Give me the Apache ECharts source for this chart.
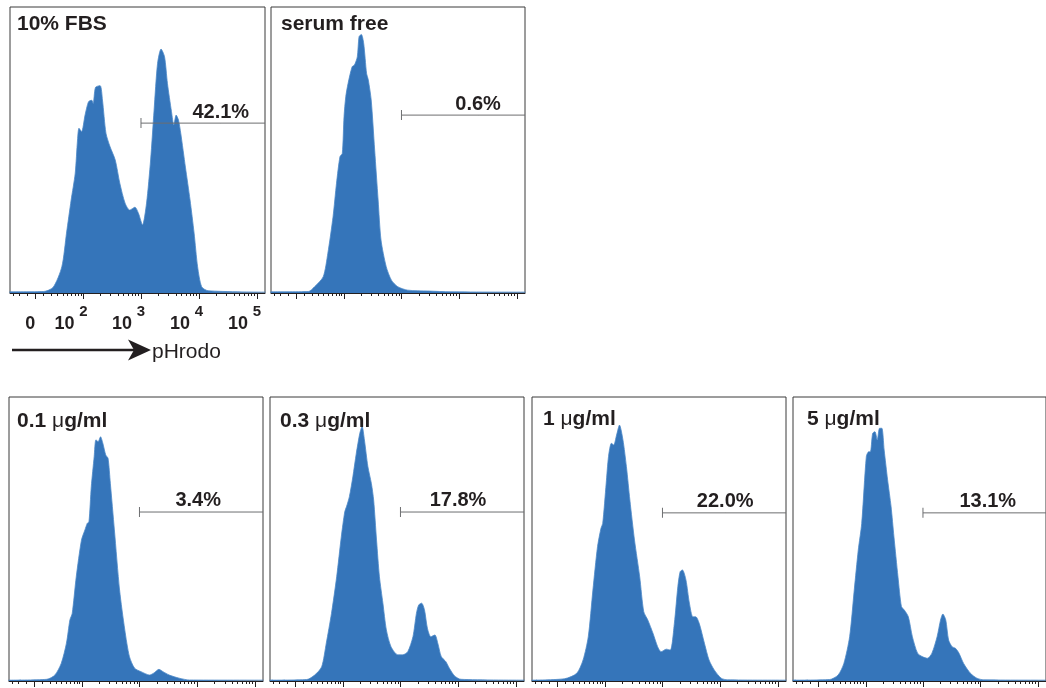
<!DOCTYPE html>
<html><head><meta charset="utf-8">
<script src="https://cdn.jsdelivr.net/npm/echarts@6/dist/echarts.min.js"></script>
<style>html,body{margin:0;padding:0;background:#fff}#c{width:1046px;height:688px}</style>
</head><body><div id="c"></div>
<script>
// ---- data: x in biexponential display decades, y in % of panel height ----
const fbsX = [-0.44, 0.14, 0.31, 0.46, 0.54, 0.62, 0.69, 0.73, 0.755, 0.80, 0.86, 0.92, 0.975, 1.00, 1.04, 1.12, 1.16, 1.22, 1.29, 1.38, 1.46, 1.55, 1.63, 1.72, 1.78, 1.85, 1.92, 1.99, 2.05, 2.11, 2.17, 2.23, 2.28, 2.35, 2.39, 2.43, 2.47, 2.51, 2.59, 2.67, 2.74, 2.80, 2.87, 2.98, 3.97];
const fbsY = [0.4, 0.5, 2.0, 9.2, 20.9, 32.5, 41.8, 53.5, 57.6, 56.4, 62.2, 66.9, 67.4, 66.3, 71.9, 72.5, 67.5, 55.9, 51.2, 46.5, 38.3, 31.4, 29.0, 30.0, 27.9, 23.8, 31.4, 46.5, 64.0, 80.3, 85.3, 82.6, 73.3, 63.4, 58.7, 62.2, 60.5, 55.8, 44.0, 32.5, 20.9, 9.2, 2.2, 0.8, 0.3];

const serumFreeX = [-0.44, 0.21, 0.32, 0.47, 0.55, 0.64, 0.70, 0.76, 0.80, 0.83, 0.86, 0.90, 0.97, 1.01, 1.06, 1.09, 1.13, 1.17, 1.22, 1.25, 1.30, 1.36, 1.42, 1.47, 1.56, 1.65, 1.76, 1.93, 2.28, 2.68, 3.97];
const serumFreeY = [0.4, 0.5, 2.2, 5.7, 13.9, 26.7, 38.4, 47.7, 48.8, 61.7, 68.6, 73.3, 79.1, 79.7, 82.6, 89.6, 90.4, 87.3, 76.8, 74.5, 67.5, 50.0, 32.5, 18.5, 9.2, 4.5, 2.2, 1.0, 0.7, 0.4, 0.3];

const dose01X = [-0.44, 0.22, 0.36, 0.47, 0.56, 0.62, 0.66, 0.73, 0.82, 0.88, 0.92, 0.95, 0.99, 1.04, 1.07, 1.11, 1.15, 1.19, 1.24, 1.28, 1.32, 1.39, 1.48, 1.57, 1.65, 1.74, 1.85, 2.00, 2.08, 2.16, 2.23, 2.34, 2.51, 2.69, 3.97];
const dose01Y = [0.3, 0.6, 2.1, 6.2, 13.3, 21.5, 23.8, 36.7, 49.6, 53.2, 55.5, 56.1, 68.4, 79.0, 84.9, 84.3, 86.0, 83.7, 79.6, 78.4, 69.6, 53.2, 32.0, 18.0, 8.6, 4.5, 3.3, 2.1, 2.9, 4.1, 3.3, 2.1, 1.0, 0.35, 0.3];

const dose03X = [-0.44, 0.20, 0.34, 0.46, 0.54, 0.63, 0.72, 0.80, 0.86, 0.89, 0.94, 1.00, 1.06, 1.12, 1.16, 1.20, 1.26, 1.32, 1.36, 1.41, 1.46, 1.52, 1.58, 1.66, 1.78, 1.86, 1.95, 2.04, 2.10, 2.14, 2.19, 2.24, 2.29, 2.35, 2.42, 2.47, 2.53, 2.61, 2.67, 2.76, 2.87, 3.97];
const dose03Y = [0.3, 0.5, 2.1, 5.0, 13.3, 23.8, 36.7, 50.8, 59.6, 61.4, 64.9, 71.9, 80.2, 87.2, 89.6, 84.9, 75.5, 69.6, 63.7, 49.6, 36.7, 27.4, 18.0, 12.1, 9.2, 9.2, 10.3, 15.6, 23.8, 26.8, 27.4, 25.0, 18.6, 15.6, 16.2, 13.3, 8.6, 6.8, 4.5, 1.8, 0.6, 0.3];

const dose1X = [-0.44, 0.13, 0.34, 0.45, 0.54, 0.62, 0.70, 0.76, 0.79, 0.85, 0.89, 0.94, 0.98, 1.03, 1.08, 1.14, 1.20, 1.26, 1.34, 1.43, 1.50, 1.57, 1.66, 1.74, 1.80, 1.89, 1.96, 2.03, 2.09, 2.13, 2.17, 2.23, 2.29, 2.35, 2.40, 2.46, 2.55, 2.63, 2.72, 2.84, 2.95, 3.97];
const dose1Y = [0.3, 0.8, 2.7, 7.4, 15.6, 32.0, 47.3, 53.8, 55.5, 69.6, 79.0, 83.7, 83.1, 86.6, 90.1, 84.9, 75.5, 63.7, 49.6, 36.7, 24.4, 21.5, 16.8, 12.1, 10.3, 11.2, 10.9, 20.3, 33.2, 38.5, 39.1, 35.6, 27.4, 22.6, 22.6, 20.3, 13.3, 7.4, 3.9, 1.0, 0.4, 0.3];

const dose5X = [-0.44, 0.20, 0.35, 0.45, 0.55, 0.63, 0.70, 0.76, 0.84, 0.88, 0.91, 0.95, 0.99, 1.03, 1.07, 1.11, 1.15, 1.21, 1.27, 1.32, 1.39, 1.45, 1.50, 1.57, 1.64, 1.73, 1.81, 1.90, 1.98, 2.07, 2.13, 2.17, 2.22, 2.27, 2.33, 2.39, 2.45, 2.53, 2.65, 2.76, 2.88, 3.97];
const dose5Y = [0.3, 0.5, 2.1, 6.2, 15.6, 32.0, 46.1, 55.5, 79.0, 80.7, 80.7, 87.2, 87.8, 84.9, 89.0, 89.0, 81.3, 70.8, 61.4, 50.8, 36.7, 26.2, 25.0, 22.6, 15.6, 9.8, 8.6, 8.0, 9.8, 15.6, 21.5, 23.6, 21.5, 14.4, 12.1, 11.5, 9.8, 6.2, 2.7, 1.0, 0.4, 0.3];

const panelTitles = ['10% FBS', 'serum free', '0.1 {u|\u03bc}g/ml', '0.3 {u|\u03bc}g/ml', '1 {u|\u03bc}g/ml', '5 {u|\u03bc}g/ml'];
const gatePercents = ['42.1%', '0.6%', '3.4%', '17.8%', '22.0%', '13.1%'];
const gateHeights = [59.4, 62.2, 59.5, 59.5, 59.2, 59.2];
const gateStartValue = 1000;

// axis ticks (fluorescence intensity) and labels
const majorTickValues = [0, 100, 1000, 10000, 100000];
const minorTickValues = [-30, -20, -10, 10, 20, 30, 40, 50, 60, 70, 80, 90,
  200, 300, 400, 500, 600, 700, 800, 900,
  2000, 3000, 4000, 5000, 6000, 7000, 8000, 9000,
  20000, 30000, 40000, 50000, 60000, 70000, 80000, 90000];
const tickBaseLabels = ['0', '10', '10', '10', '10'];
const tickExpLabels = ['', '2', '3', '4', '5'];
const axisName = 'pHrodo';

// ---- layout / style ----
const seriesXY = [[fbsX, fbsY], [serumFreeX, serumFreeY], [dose01X, dose01Y], [dose03X, dose03Y], [dose1X, dose1Y], [dose5X, dose5Y]];
const panels = [
  {left: 10, top: 7, width: 255, height: 286, tx: 17, ty: 14, lx: 3.20},
  {left: 271, top: 7, width: 254, height: 286, tx: 281, ty: 14, lx: 3.15},
  {left: 9, top: 397, width: 254, height: 284, tx: 17, ty: 411, lx: 2.84},
  {left: 270, top: 397, width: 254, height: 284, tx: 280, ty: 411, lx: 2.82},
  {left: 532, top: 397, width: 254, height: 284, tx: 543, ty: 409, lx: 2.91},
  {left: 793, top: 397, width: 254, height: 284, tx: 807, ty: 409, lx: 2.95}
];
const BIEX_W = 30;
const T = v => Math.asinh(v / BIEX_W) / Math.LN10;
const X_MIN = -0.434, X_MAX = 3.962;
const INK = '#231f20';
const BLUE = '#3575ba';
const FONT = '"Liberation Sans", Arial, sans-serif';

const grids = [], xAxes = [], yAxes = [], series = [], titles = [];
panels.forEach((p, i) => {
  grids.push({left: p.left, top: p.top, width: p.width, height: p.height, show: true,
    borderColor: '#3a3a3a', borderWidth: 1, backgroundColor: 'transparent', containLabel: false});
  yAxes.push({gridIndex: i, type: 'value', min: 0, max: 100, show: false});
  const base = {gridIndex: i, type: 'value', min: X_MIN, max: X_MAX, position: 'bottom', splitLine: {show: false}};
  const mainIdx = xAxes.length;
  xAxes.push(Object.assign({}, base, {
    axisLine: {show: true, onZero: false, lineStyle: {color: INK, width: 1}},
    axisTick: {show: true, customValues: minorTickValues.map(T), length: 3, lineStyle: {color: INK, width: 1}},
    axisLabel: {show: false}
  }));
  xAxes.push(Object.assign({}, base, {
    axisLine: {show: false, onZero: false},
    axisTick: {show: true, customValues: majorTickValues.map(T), length: 6, lineStyle: {color: INK, width: 1}},
    axisLabel: {show: false}
  }));
  if (i === 0) {
    const majT = majorTickValues.map(T);
    const idxOf = v => { let b = 0; majT.forEach((t, k) => { if (Math.abs(t - v) < Math.abs(majT[b] - v)) b = k; }); return b; };
    xAxes.push(Object.assign({}, base, {
      axisLine: {show: false, onZero: false}, axisTick: {show: false},
      axisLabel: {show: true, customValues: majT, margin: 22, align: 'right',
        formatter: v => { const k = idxOf(v); return k === 0 ? '{z|' + tickBaseLabels[k] + '}' : '{b|' + tickBaseLabels[k] + '}'; },
        rich: {
          z: {fontSize: 18, fontWeight: 'bold', fontFamily: FONT, color: INK, padding: [0, 0, 0, 0]},
          b: {fontSize: 18, fontWeight: 'bold', fontFamily: FONT, color: INK, padding: [0, 9, 0, 0]}
        }}
    }));
    xAxes.push(Object.assign({}, base, {
      axisLine: {show: false, onZero: false}, axisTick: {show: false},
      axisLabel: {show: true, customValues: majT.slice(1), margin: 11, align: 'center',
        fontSize: 15, fontWeight: 'bold', fontFamily: FONT, color: INK,
        formatter: v => tickExpLabels[idxOf(v)]}
    }));
  }
  const [xs, ys] = seriesXY[i];
  series.push({type: 'line', xAxisIndex: mainIdx, yAxisIndex: i, data: xs.map((x, k) => [x, ys[k]]),
    smooth: 0.25, symbol: 'none', lineStyle: {width: 0.8, color: '#4d89c8'},
    areaStyle: {color: BLUE, opacity: 1}, z: 2, silent: true});
  const g = gateHeights[i];
  series.push({type: 'line', xAxisIndex: mainIdx, yAxisIndex: i,
    data: [{value: [T(gateStartValue), g], symbol: 'rect', symbolSize: [1, 10]}, {value: [X_MAX, g], symbol: 'none'}],
    showSymbol: true, showAllSymbol: true, lineStyle: {color: '#6d6e70', width: 1}, itemStyle: {color: '#6d6e70'}, z: 5, silent: true});
  series.push({type: 'scatter', xAxisIndex: mainIdx, yAxisIndex: i, data: [[p.lx, g]],
    symbol: 'rect', symbolSize: [0.1, 0.1], itemStyle: {color: INK, opacity: 1}, silent: true, z: 6,
    label: {show: true, position: 'top', distance: 1, formatter: gatePercents[i], opacity: 1,
      fontSize: 20, fontWeight: 'bold', fontFamily: FONT, color: INK, textBorderWidth: 0}});
  titles.push({text: panelTitles[i], left: p.tx, top: p.ty, padding: 0,
    textStyle: {fontSize: 21, fontWeight: 'bold', fontFamily: FONT, color: INK,
      rich: {u: {fontSize: 21, fontWeight: 'normal', fontFamily: FONT, color: INK}}}});
});

const chart = echarts.init(document.getElementById('c'), null, {renderer: 'canvas'});
chart.setOption({
  animation: false,
  backgroundColor: '#fff',
  title: titles,
  grid: grids, xAxis: xAxes, yAxis: yAxes, series: series,
  graphic: [
    {type: 'line', shape: {x1: 12, y1: 350, x2: 136, y2: 350}, style: {stroke: INK, lineWidth: 2.5}, silent: true},
    {type: 'polygon', shape: {points: [[151, 350], [128, 339.5], [134, 350], [128, 360.5]]}, style: {fill: INK}, silent: true},
    {type: 'text', x: 152, y: 352, style: {text: axisName, fontSize: 21, fontFamily: FONT, fill: INK, verticalAlign: 'middle', textVerticalAlign: 'middle'}, silent: true}
  ]
});
</script>
</body></html>
